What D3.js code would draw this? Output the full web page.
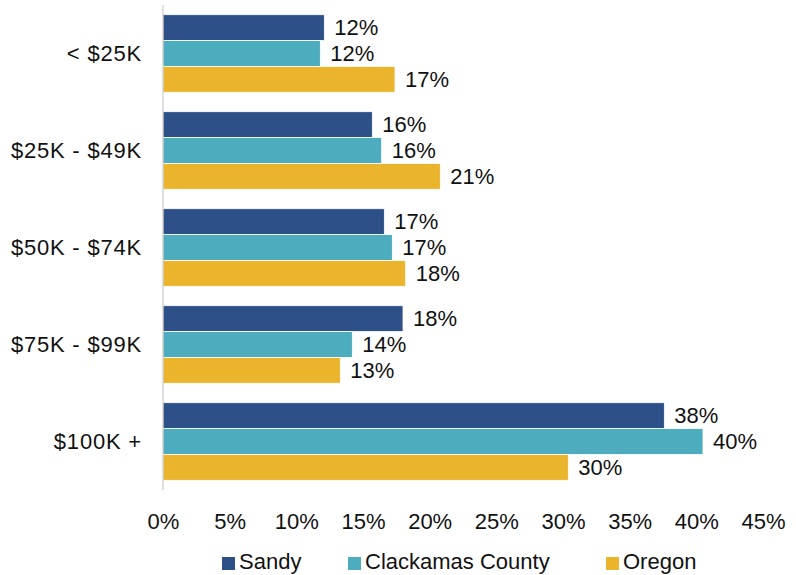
<!DOCTYPE html>
<meta charset="utf-8">
<head>
    <script src="https://d3js.org/d3.v7.min.js"></script>
    <title>Household Income</title>
    <style>
        body { margin: 0; background: #fff; }
        text { font-family: "Liberation Sans", Arial, sans-serif; fill: #111; }
    </style>
</head>
<body>
    <svg width="796" height="575"></svg>
    <script>
        // income brackets (top to bottom)
        var categories = ["< $25K", "$25K - $49K", "$50K - $74K", "$75K - $99K", "$100K +"];
        var seriesNames = ["Sandy", "Clackamas County", "Oregon"];
        var sandy = [12.1, 15.7, 16.6, 18.0, 37.6];
        var clackamas = [11.8, 16.4, 17.2, 14.2, 40.5];
        var oregon = [17.4, 20.8, 18.2, 13.3, 30.4];
        var labels = [
            ["12%", "16%", "17%", "18%", "38%"],
            ["12%", "16%", "17%", "14%", "40%"],
            ["17%", "21%", "18%", "13%", "30%"]
        ];
        var xTicks = [0, 5, 10, 15, 20, 25, 30, 35, 40, 45];
        var colors = ["#2D5089", "#4EACBF", "#EAB52D"];

        var series = [sandy, clackamas, oregon];

        var svg = d3.select("svg");
        var plotLeft = 163, plotRight = 763, plotTop = 5, plotBottom = 490;

        var x = d3.scaleLinear().domain([0, 45]).range([plotLeft, plotRight]);
        var y0 = d3.scaleBand().domain(categories).range([plotTop, plotBottom])
            .paddingInner(0.2).paddingOuter(0.1);
        var y1 = d3.scaleBand().domain(seriesNames).range([0, y0.bandwidth()]);

        // rows of data, one per category
        var rows = categories.map(function (c, i) {
            return seriesNames.map(function (s, j) {
                return { cat: c, name: s, value: series[j][i], label: labels[j][i], color: colors[j] };
            });
        });

        var groups = svg.append("g").selectAll("g")
            .data(rows)
            .enter().append("g")
            .attr("transform", function (d, i) { return "translate(0," + y0(categories[i]) + ")"; });

        groups.selectAll("rect")
            .data(function (d) { return d; })
            .enter().append("rect")
            .attr("x", x(0))
            .attr("y", function (d) { return y1(d.name); })
            .attr("width", function (d) { return x(d.value) - x(0); })
            .attr("height", y1.bandwidth())
            .attr("fill", function (d) { return d.color; })
            .attr("stroke", "#fff")
            .attr("stroke-width", 0.8);

        groups.selectAll("text")
            .data(function (d) { return d; })
            .enter().append("text")
            .attr("x", function (d) { return x(d.value) + 10; })
            .attr("y", function (d) { return y1(d.name) + y1.bandwidth() / 2 + 2; })
            .attr("dominant-baseline", "middle")
            .style("font-size", "22px")
            .text(function (d) { return d.label; });

        // category axis
        var yAxis = svg.append("g")
            .attr("transform", "translate(" + plotLeft + ",0)")
            .call(d3.axisLeft(y0).tickSize(0).tickPadding(21));
        yAxis.select(".domain").attr("stroke", "#BFBFBF").attr("d", "M0," + plotTop + "V" + plotBottom);
        yAxis.selectAll("text").style("font-size", "22px").style("letter-spacing", "0.8px").attr("fill", "#111");

        // value axis
        var xAxis = svg.append("g")
            .attr("transform", "translate(0," + plotBottom + ")")
            .call(d3.axisBottom(x).tickValues(xTicks).tickFormat(function (d) { return d + "%"; })
                .tickSize(0).tickPadding(23));
        xAxis.select(".domain").remove();
        xAxis.selectAll("text").style("font-size", "22px").attr("fill", "#111");

        // legend
        var legendX = [222, 348, 606];
        var legend = svg.append("g").selectAll("g")
            .data(seriesNames)
            .enter().append("g")
            .attr("transform", function (d, i) { return "translate(" + legendX[i] + ",557)"; });
        legend.append("rect")
            .attr("width", 13).attr("height", 13)
            .attr("fill", function (d, i) { return colors[i]; });
        legend.append("text")
            .attr("x", 17).attr("y", 6)
            .attr("dominant-baseline", "middle")
            .style("font-size", "22px")
            .text(function (d) { return d; });
    </script>
</body>
